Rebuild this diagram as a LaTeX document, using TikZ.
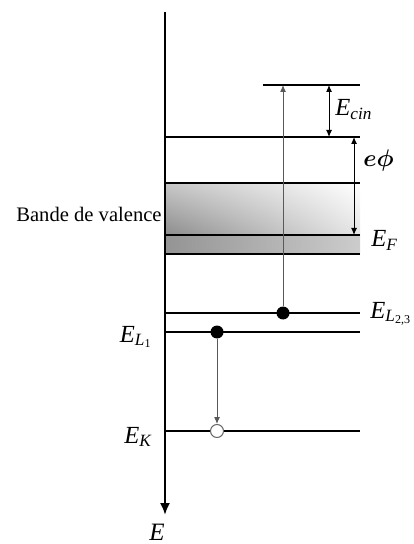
\documentclass[tikz,border=0pt]{standalone}
\usepackage{fontspec}
\setmainfont{Liberation Serif}
\usepackage{bm}
\usetikzlibrary{arrows.meta,positioning,shadings}
\tikzset{
  niveau/.style={line width=1pt},
  fleche/.style={-{Latex[length=3.5pt,width=3pt]},line width=0.5pt},
  dfleche/.style={{Latex[length=3.5pt,width=3pt]}-{Latex[length=3.5pt,width=3pt]},line width=0.5pt},
  plein/.style={circle,fill=black,inner sep=0pt,minimum size=6.5pt},
  vide/.style={circle,draw=black!60,fill=white,inner sep=0pt,minimum size=6.5pt,line width=0.5pt},
  etiq/.style={inner sep=0.5pt,font=\fontsize{12.3}{14}\selectfont}
}
\newcommand{\En}[1]{\textit{E}\textsubscript{#1}}

\begin{document}
\begin{tikzpicture}[x=0.5pt,y=-0.5pt]
\useasboundingbox (0,0) rectangle (413,544);
% bande de valence
\shade[upper left=black!22,upper right=white,lower left=black!45,lower right=black!10] (165,183) rectangle (360,235);
\shade[left color=black!42,right color=black!20] (165,235) rectangle (360,254);
% niveaux
\draw[niveau] (263,85) -- (360,85);
\draw[niveau] (165,137) -- (360,137);
\draw[niveau] (165,183) -- (360,183);
\draw[niveau] (165,235) -- (360,235);
\draw[niveau] (165,254) -- (360,254);
\draw[niveau] (165,313) -- (360,313);
\draw[niveau] (165,332) -- (360,332);
\draw[niveau] (165,431) -- (360,431);
% axe
\coordinate (haut) at (165,12);
\coordinate (bas) at (165,515);
\draw[line width=1pt,-{Latex[length=6pt,width=5pt]}] (haut) -- (bas);
\node[inner sep=0.5pt,font=\fontsize{12.5}{15}\selectfont] (E) at (157,532) {\textit{E}};
% electrons
\node[plein] (p23) at (283,313) {};
\node[plein] (p1) at (217,332) {};
\node[vide] (trou) at (217,431) {};
\coordinate (sortie) at (283,85);
\draw[fleche,draw=black!65] (p23) -- (sortie);
\draw[fleche,draw=black!65] (p1) -- (trou);
% ecarts
\coordinate (cinh) at (329,85);
\coordinate (cinb) at (329,137);
\coordinate (phih) at (354,137);
\coordinate (phib) at (354,235);
\draw[dfleche] (cinh) -- (cinb);
\draw[dfleche] (phih) -- (phib);
% etiquettes
\node[etiq,anchor=base west] (Ecin) at (334,116) {\En{\textit{cin}}};
\node[etiq,anchor=base west] (ephi) at (362,167) {$\bm{e\phi}$};
\node[etiq,anchor=base west] (EF) at (370,247) {\En{\textit{F}}};
\node[etiq,anchor=base west] (EL23) at (369,318) {\En{\textit{L}\textsubscript{2,3}}};
\node[etiq,anchor=base east] (EL1) at (154,342) {\En{\textit{L}\textsubscript{1}}};
\node[etiq,anchor=base east] (EK) at (154,443) {\En{\textit{K}}};
\node[anchor=east,inner sep=1pt,font=\fontsize{10.3}{12}\selectfont] (bande) at (164,214) {Bande de valence};
\end{tikzpicture}
\end{document}
